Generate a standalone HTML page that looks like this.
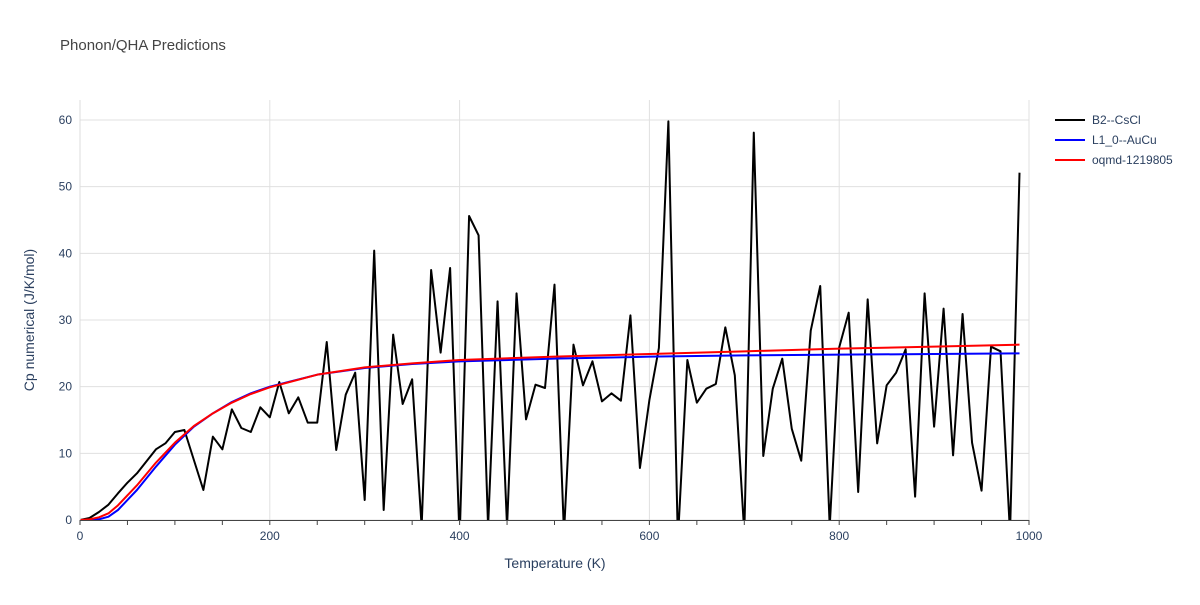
<!DOCTYPE html>
<html><head><meta charset="utf-8"><style>
body{margin:0;background:#fff}
svg text{font-family:"Liberation Sans",sans-serif;fill:#2a3f5f}
</style></head><body>
<svg id="c" width="1200" height="600">
<text x="60" y="50" font-size="15" style="fill:#444">Phonon/QHA Predictions</text>
<g id="grid"></g>
<defs><clipPath id="clip"><rect x="80" y="100" width="949" height="420"/></clipPath></defs>
<g id="series" clip-path="url(#clip)"></g>
<g id="axes"></g>
<text x="555" y="568" font-size="14" text-anchor="middle">Temperature (K)</text>
<text transform="translate(34,320) rotate(-90)" font-size="14" text-anchor="middle">Cp numerical (J/K/mol)</text>
<g id="legend"></g>
</svg>
<script>
const blackT=[0,10,20,30,40,50,60,70,80,90,100,110,120,130,140,150,160,170,180,190,200,210,220,230,240,250,260,270,280,290,300,310,320,330,340,350,360,370,380,390,400,410,420,430,440,450,460,470,480,490,500,510,520,530,540,550,560,570,580,590,600,610,620,630,640,650,660,670,680,690,700,710,720,730,740,750,760,770,780,790,800,810,820,830,840,850,860,870,880,890,900,910,920,930,940,950,960,970,980,990];
const blackCp=[0,0.3,1.2,2.3,4,5.6,7,8.8,10.6,11.5,13.2,13.5,9,4.5,12.5,10.6,16.6,13.8,13.2,16.9,15.4,20.7,16,18.4,14.6,14.6,26.7,10.5,18.8,22.1,3,40.4,1.5,27.8,17.4,21.1,-1,37.5,25.1,37.8,-3,45.6,42.7,-1,32.8,-1,34,15.1,20.3,19.8,35.3,-2,26.3,20.2,23.8,17.8,19,17.9,30.7,7.8,18,25.8,59.8,-3,24,17.6,19.7,20.4,28.9,21.7,-2,58.1,9.6,19.7,24.2,13.7,8.9,28.4,35.1,-1,25.9,31.1,4.2,33.1,11.5,20.2,22.1,25.6,3.5,34,14,31.7,9.7,30.9,11.6,4.4,26,25.3,-2,52.1];
const curveT=[0,10,20,30,40,60,80,100,120,140,160,180,200,250,300,350,400,500,600,700,800,900,990];
const blueCp=[0,0,0.1,0.5,1.5,4.5,8,11.3,14,16,17.7,19,20,21.8,22.8,23.4,23.8,24.2,24.5,24.7,24.8,24.9,25];
const redCp=[0,0.1,0.4,1,2.2,5.2,8.6,11.6,14.1,16,17.6,18.9,19.9,21.8,22.9,23.5,24,24.5,24.9,25.3,25.7,26,26.3];
const xTicks=[0,200,400,600,800,1000];
const yTicks=[0,10,20,30,40,50,60];
const NS="http://www.w3.org/2000/svg";
const X=v=>80+v*0.949, Y=v=>520-v*400/60;
function mk(t,a,p){const e=document.createElementNS(NS,t);for(const k in a)e.setAttribute(k,a[k]);p.appendChild(e);return e;}
const grid=document.getElementById('grid'),axes=document.getElementById('axes'),ser=document.getElementById('series'),leg=document.getElementById('legend');
yTicks.forEach(v=>{const l=mk('line',{x1:80,x2:1029,y1:Y(v),y2:Y(v),stroke:'#e0e0e0','stroke-width':1},grid);


const t=mk('text',{x:72,y:Y(v)+4,'font-size':12,'text-anchor':'end'},axes);t.textContent=v;

});
xTicks.forEach(v=>{const l=mk('line',{x1:X(v),x2:X(v),y1:100,y2:520,stroke:'#e0e0e0','stroke-width':1},grid);


const t=mk('text',{x:X(v),y:540,'font-size':12,'text-anchor':'middle'},axes);t.textContent=v;

});
for(let v=0;v<=1000;v+=50){const m=mk('line',{x1:X(v),x2:X(v),y1:520,y2:525,stroke:'#444','stroke-width':1},axes);

}
const ax=mk('line',{x1:80,x2:1029,y1:520.5,y2:520.5,stroke:'#444','stroke-width':1},axes);


const ay=mk('line',{x1:80,x2:80,y1:100,y2:520,stroke:'#ddd','stroke-width':1},axes);


function line(xs,ys,c,name){const p=mk('polyline',{points:xs.map((x,i)=>X(x)+','+Y(ys[i])).join(' '),fill:'none',stroke:c,'stroke-width':2,'stroke-linejoin':'round'},ser);

}
line(blackT,blackCp,'#000','series-b2-cscl');
line(curveT,blueCp,'#0000ff','series-l1-0-aucu');
line(curveT,redCp,'#ff0000','series-oqmd-1219805');
[['B2--CsCl','#000'],['L1_0--AuCu','#0000ff'],['oqmd-1219805','#ff0000']].forEach((d,i)=>{const y=120+i*20;
const g=mk('g',{},leg);


mk('line',{x1:1055,x2:1085,y1:y,y2:y,stroke:d[1],'stroke-width':2},g);
const t=mk('text',{x:1092,y:y+4,'font-size':12},g);t.textContent=d[0];});
</script>
</body></html>
